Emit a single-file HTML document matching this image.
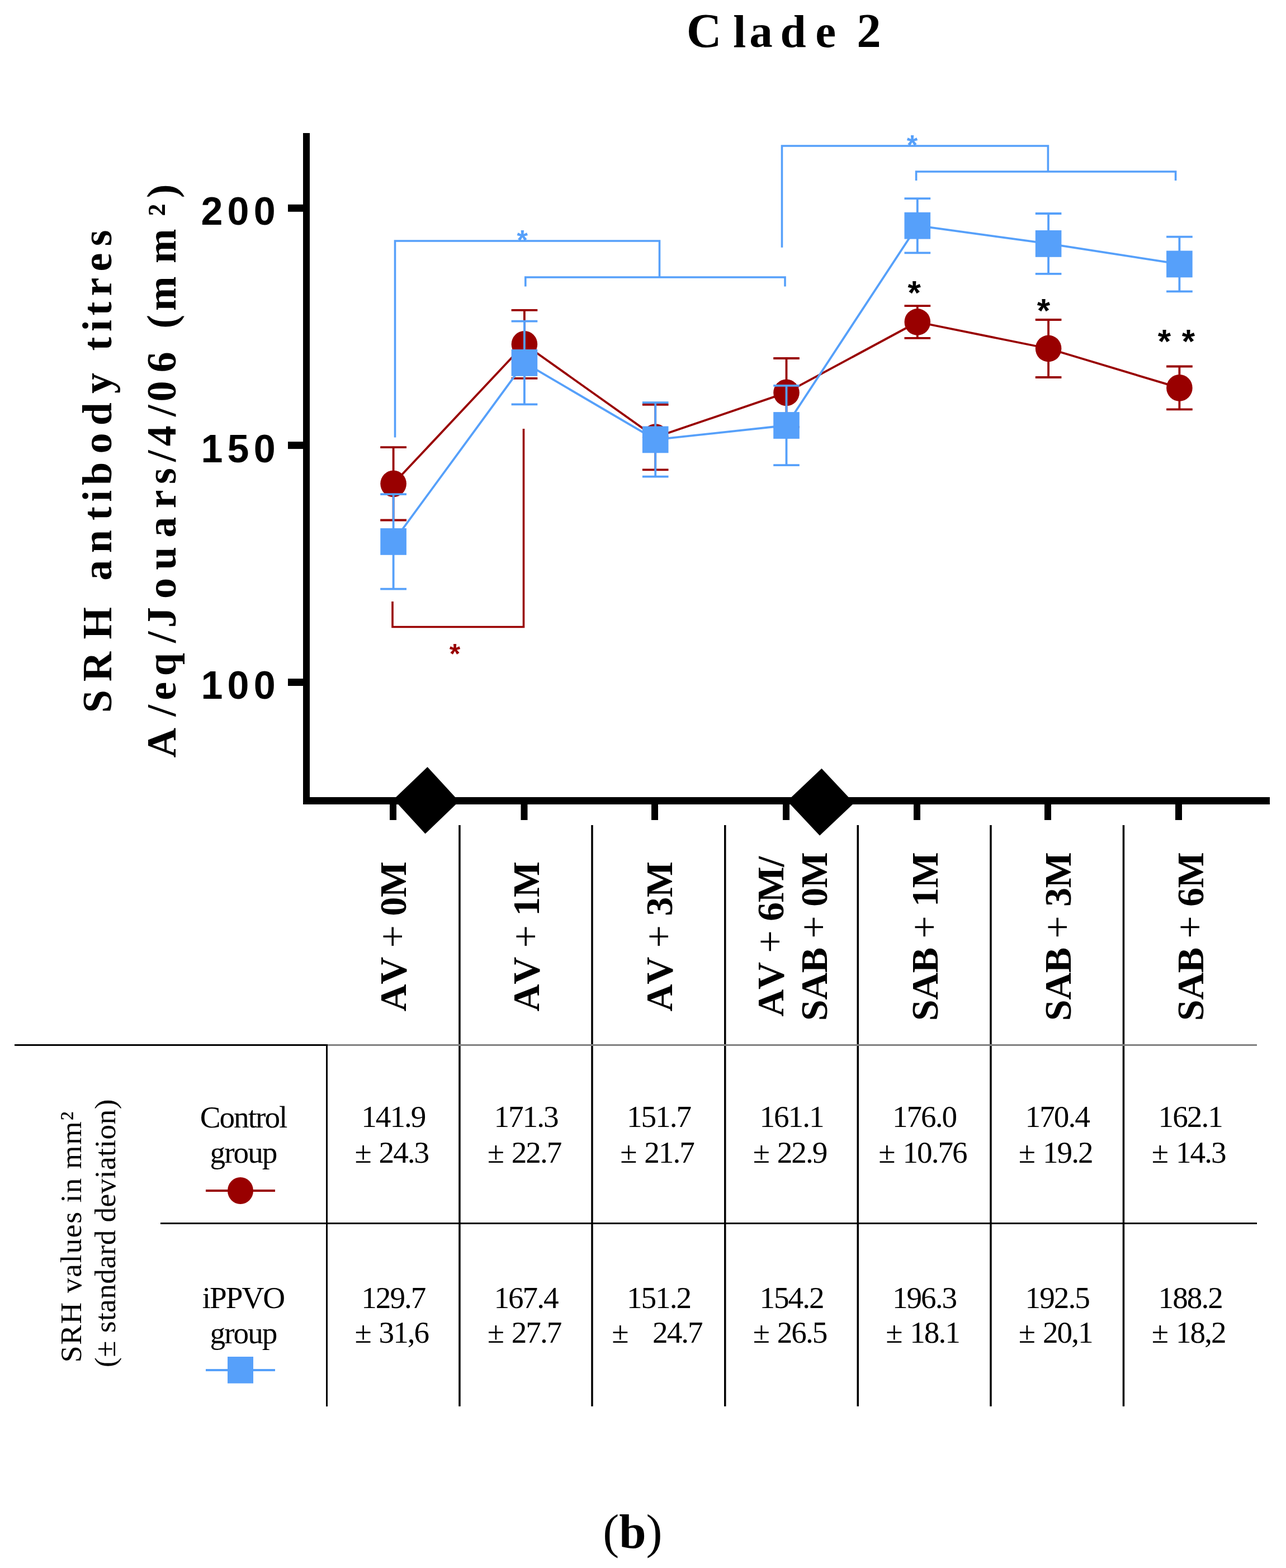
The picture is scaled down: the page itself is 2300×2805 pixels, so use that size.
<!DOCTYPE html><html><head><meta charset="utf-8"><title>Clade 2</title><style>html,body{margin:0;padding:0;background:#fff}svg{display:block}text{font-kerning:none;white-space:pre}</style></head><body>
<svg width="2300" height="2805" viewBox="0 0 2300 2805">
<rect width="2300" height="2805" fill="#fff"/>
<text y="84.4" font-family="Liberation Serif, serif" font-weight="bold" font-size="87.0"><tspan x="1227.7">C</tspan><tspan x="1311.2 1340.2 1395.6 1458.2" font-size="83.0">lade</tspan><tspan x="1500 1532.3"> 2</tspan></text>
<g fill="#000">
<rect x="542" y="238" width="12" height="1201"/>
<rect x="542" y="1426" width="1729" height="13"/>
<rect x="515" y="365.8" width="27" height="13"/>
<rect x="515" y="790.1" width="27" height="13"/>
<rect x="515" y="1214.0" width="27" height="13"/>
<rect x="697.0" y="1439" width="12" height="28"/>
<rect x="931.5" y="1439" width="12" height="28"/>
<rect x="1165.0" y="1439" width="12" height="28"/>
<rect x="1400.0" y="1439" width="12" height="28"/>
<rect x="1634.0" y="1439" width="12" height="28"/>
<rect x="1868.0" y="1439" width="12" height="28"/>
<rect x="2102.0" y="1439" width="12" height="28"/>
<polygon points="764.5,1372 821,1433.5 760.5,1491.6 704,1430"/>
<polygon points="1469.5,1374.8 1527.5,1436.5 1466,1494.8 1408,1433"/>
</g>
<text x="359.4" y="402.3" font-family="Liberation Sans, sans-serif" font-weight="bold" font-size="70" letter-spacing="8.2">200</text>
<text x="359.4" y="827.1" font-family="Liberation Sans, sans-serif" font-weight="bold" font-size="70" letter-spacing="8.2">150</text>
<text x="359.4" y="1250.0" font-family="Liberation Sans, sans-serif" font-weight="bold" font-size="70" letter-spacing="8.2">100</text>
<text transform="translate(199.0,1400.0) rotate(-90)" x="124.7 180.8 256.6 314.1 361.3 410.8 469.0 502.5 532.1 588.4 638.7 696.1 733.1 772.6 807.3 835.6 870.4 914.5 959.8" font-family="Liberation Serif, serif" font-weight="bold" font-size="74.0">SRH antibody titres</text>
<text transform="translate(314.0,1400.0) rotate(-90)" x="44.4 118.4 147.3 190.8 250.1 277.0 329.0 380.6 438.2 490.7 534.1 573.9 601.7 655.1 681.5 733.7 770.7 812.2 844.1 929.1 1013.3 1045.7" font-family="Liberation Serif, serif" font-weight="bold" font-size="74.0">A/eq/Jouars/4/06 (mm²)</text>
<text transform="translate(726.0,1675.5) rotate(-90)" text-anchor="middle" font-family="Liberation Serif, serif" font-weight="bold" font-size="68" letter-spacing="-0.45">AV <tspan font-weight="normal" font-size="72">+</tspan> 0M</text>
<text transform="translate(963.8,1675.5) rotate(-90)" text-anchor="middle" font-family="Liberation Serif, serif" font-weight="bold" font-size="68" letter-spacing="-0.45">AV <tspan font-weight="normal" font-size="72">+</tspan> 1M</text>
<text transform="translate(1202.0,1675.5) rotate(-90)" text-anchor="middle" font-family="Liberation Serif, serif" font-weight="bold" font-size="68" letter-spacing="-0.45">AV <tspan font-weight="normal" font-size="72">+</tspan> 3M</text>
<text transform="translate(1400.7,1675.5) rotate(-90)" text-anchor="middle" font-family="Liberation Serif, serif" font-weight="bold" font-size="68" letter-spacing="-0.45">AV <tspan font-weight="normal" font-size="72">+</tspan> 6M/</text>
<text transform="translate(1479.4,1675.5) rotate(-90)" text-anchor="middle" font-family="Liberation Serif, serif" font-weight="bold" font-size="68" letter-spacing="-0.45">SAB <tspan font-weight="normal" font-size="72">+</tspan> 0M</text>
<text transform="translate(1677.2,1675.5) rotate(-90)" text-anchor="middle" font-family="Liberation Serif, serif" font-weight="bold" font-size="68" letter-spacing="-0.45">SAB <tspan font-weight="normal" font-size="72">+</tspan> 1M</text>
<text transform="translate(1914.7,1675.5) rotate(-90)" text-anchor="middle" font-family="Liberation Serif, serif" font-weight="bold" font-size="68" letter-spacing="-0.45">SAB <tspan font-weight="normal" font-size="72">+</tspan> 3M</text>
<text transform="translate(2151.7,1675.5) rotate(-90)" text-anchor="middle" font-family="Liberation Serif, serif" font-weight="bold" font-size="68" letter-spacing="-0.45">SAB <tspan font-weight="normal" font-size="72">+</tspan> 6M</text>
<g fill="#000">
<rect x="26" y="1868" width="560" height="3"/>
<rect x="583" y="1868" width="3" height="648"/>
<rect x="287" y="2187" width="1961" height="3"/>
<rect x="820.2" y="1476" width="3.5" height="1039.8"/>
<rect x="1057.2" y="1476" width="3.5" height="1039.8"/>
<rect x="1295.0" y="1476" width="3.5" height="1039.8"/>
<rect x="1532.5" y="1476" width="3.5" height="1039.8"/>
<rect x="1770.2" y="1476" width="3.5" height="1039.8"/>
<rect x="2007.7" y="1476" width="3.5" height="1039.8"/>
</g>
<rect x="586" y="1868" width="1662" height="3" fill="#808080"/>
<text x="703.3" y="2016.3" font-family="Liberation Serif, serif" font-size="55.2" letter-spacing="-2.0" text-anchor="middle">141.9</text>
<text x="700.3" y="2080" word-spacing="3" font-family="Liberation Serif, serif" font-size="55.2" letter-spacing="-2.0" text-anchor="middle">± 24.3</text>
<text x="703.3" y="2340" font-family="Liberation Serif, serif" font-size="55.2" letter-spacing="-2.0" text-anchor="middle">129.7</text>
<text x="700.3" y="2402.4" word-spacing="3" font-family="Liberation Serif, serif" font-size="55.2" letter-spacing="-2.0" text-anchor="middle">± 31,6</text>
<text x="940.5" y="2016.3" font-family="Liberation Serif, serif" font-size="55.2" letter-spacing="-2.0" text-anchor="middle">171.3</text>
<text x="937.5" y="2080" word-spacing="3" font-family="Liberation Serif, serif" font-size="55.2" letter-spacing="-2.0" text-anchor="middle">± 22.7</text>
<text x="940.5" y="2340" font-family="Liberation Serif, serif" font-size="55.2" letter-spacing="-2.0" text-anchor="middle">167.4</text>
<text x="937.5" y="2402.4" word-spacing="3" font-family="Liberation Serif, serif" font-size="55.2" letter-spacing="-2.0" text-anchor="middle">± 27.7</text>
<text x="1178.0" y="2016.3" font-family="Liberation Serif, serif" font-size="55.2" letter-spacing="-2.0" text-anchor="middle">151.7</text>
<text x="1175.0" y="2080" word-spacing="3" font-family="Liberation Serif, serif" font-size="55.2" letter-spacing="-2.0" text-anchor="middle">± 21.7</text>
<text x="1178.0" y="2340" font-family="Liberation Serif, serif" font-size="55.2" letter-spacing="-2.0" text-anchor="middle">151.2</text>
<text x="1175.0" y="2402.4" word-spacing="3" font-family="Liberation Serif, serif" font-size="55.2" letter-spacing="-2.0" text-anchor="middle">±   24.7</text>
<text x="1415.5" y="2016.3" font-family="Liberation Serif, serif" font-size="55.2" letter-spacing="-2.0" text-anchor="middle">161.1</text>
<text x="1412.5" y="2080" word-spacing="3" font-family="Liberation Serif, serif" font-size="55.2" letter-spacing="-2.0" text-anchor="middle">± 22.9</text>
<text x="1415.5" y="2340" font-family="Liberation Serif, serif" font-size="55.2" letter-spacing="-2.0" text-anchor="middle">154.2</text>
<text x="1412.5" y="2402.4" word-spacing="3" font-family="Liberation Serif, serif" font-size="55.2" letter-spacing="-2.0" text-anchor="middle">± 26.5</text>
<text x="1653.0" y="2016.3" font-family="Liberation Serif, serif" font-size="55.2" letter-spacing="-2.0" text-anchor="middle">176.0</text>
<text x="1650.0" y="2080" word-spacing="3" font-family="Liberation Serif, serif" font-size="55.2" letter-spacing="-2.0" text-anchor="middle">± 10.76</text>
<text x="1653.0" y="2340" font-family="Liberation Serif, serif" font-size="55.2" letter-spacing="-2.0" text-anchor="middle">196.3</text>
<text x="1650.0" y="2402.4" word-spacing="3" font-family="Liberation Serif, serif" font-size="55.2" letter-spacing="-2.0" text-anchor="middle">± 18.1</text>
<text x="1890.7" y="2016.3" font-family="Liberation Serif, serif" font-size="55.2" letter-spacing="-2.0" text-anchor="middle">170.4</text>
<text x="1887.7" y="2080" word-spacing="3" font-family="Liberation Serif, serif" font-size="55.2" letter-spacing="-2.0" text-anchor="middle">± 19.2</text>
<text x="1890.7" y="2340" font-family="Liberation Serif, serif" font-size="55.2" letter-spacing="-2.0" text-anchor="middle">192.5</text>
<text x="1887.7" y="2402.4" word-spacing="3" font-family="Liberation Serif, serif" font-size="55.2" letter-spacing="-2.0" text-anchor="middle">± 20,1</text>
<text x="2128.7" y="2016.3" font-family="Liberation Serif, serif" font-size="55.2" letter-spacing="-2.0" text-anchor="middle">162.1</text>
<text x="2125.7" y="2080" word-spacing="3" font-family="Liberation Serif, serif" font-size="55.2" letter-spacing="-2.0" text-anchor="middle">± 14.3</text>
<text x="2128.7" y="2340" font-family="Liberation Serif, serif" font-size="55.2" letter-spacing="-2.0" text-anchor="middle">188.2</text>
<text x="2125.7" y="2402.4" word-spacing="3" font-family="Liberation Serif, serif" font-size="55.2" letter-spacing="-2.0" text-anchor="middle">± 18,2</text>
<text x="435" y="2016.5" font-family="Liberation Serif, serif" font-size="55.2" letter-spacing="-2.0" text-anchor="middle">Control</text>
<text x="435" y="2080.4" font-family="Liberation Serif, serif" font-size="55.2" letter-spacing="-2.0" text-anchor="middle">group</text>
<text x="435" y="2339.9" font-family="Liberation Serif, serif" font-size="55.2" letter-spacing="-2.0" text-anchor="middle">iPPVO</text>
<text x="435" y="2403.3" font-family="Liberation Serif, serif" font-size="55.2" letter-spacing="-2.0" text-anchor="middle">group</text>
<rect x="368" y="2128" width="124" height="4" fill="#990000"/>
<ellipse cx="430" cy="2130" rx="23" ry="24" fill="#990000"/>
<rect x="368" y="2449" width="124" height="4" fill="#56A0FA"/>
<rect x="407" y="2427" width="46" height="47.7" fill="#56A0FA"/>
<text transform="translate(145,2212) rotate(-90)" text-anchor="middle" font-family="Liberation Serif, serif" font-size="53.5" letter-spacing="1.7">SRH values in mm²</text>
<text transform="translate(205.8,2206) rotate(-90)" text-anchor="middle" font-family="Liberation Serif, serif" font-size="53.5" letter-spacing="0.35">(± standard deviation)</text>
<text x="1131.4" y="2768.5" text-anchor="middle" font-family="Liberation Serif, serif" font-weight="bold" font-size="87"><tspan font-weight="normal">(</tspan>b<tspan font-weight="normal">)</tspan></text>
<g fill="none" stroke="#56A0FA" stroke-width="3.6" stroke-linecap="butt" stroke-linejoin="miter">
<path d="M706.5,782.4 V431 H1179.5 V496"/>
<path d="M939.8,512.5 V496 H1404 V512.5"/>
<path d="M1398.5,442.7 V261 H1874.4 V307"/>
<path d="M1638.6,323 V307 H2102.6 V323"/>
</g>
<path d="M702,1076 V1121.5 H936.5 V767.1" fill="none" stroke="#990000" stroke-width="3.6"/>
<text x="924.6" y="447.4" font-family="Liberation Sans, sans-serif" font-weight="bold" font-size="50" fill="#56A0FA">*</text>
<text x="1621.7" y="276.5" font-family="Liberation Sans, sans-serif" font-weight="bold" font-size="50" fill="#56A0FA">*</text>
<text x="803.7" y="1187.3" font-family="Liberation Sans, sans-serif" font-weight="bold" font-size="50" fill="#990000">*</text>
<text x="1623.6" y="544.3" font-family="Liberation Sans, sans-serif" font-weight="bold" font-size="60">*</text>
<text x="1854.7" y="576.0" font-family="Liberation Sans, sans-serif" font-weight="bold" font-size="60">*</text>
<text x="2070.8" y="631.3" font-family="Liberation Sans, sans-serif" font-weight="bold" font-size="60">*</text>
<text x="2113.8" y="631.3" font-family="Liberation Sans, sans-serif" font-weight="bold" font-size="60">*</text>
<polyline points="703.6,865.3 937.9,615.8 1172.2,782.2 1406.5,702.4 1640.8,576.0 1875.1,623.5 2109.4,693.9" fill="none" stroke="#990000" stroke-width="3.8" stroke-linejoin="round"/>
<g stroke="#990000" stroke-width="3.8" fill="none">
<path d="M703.6,800.1 V930.5 M680.2,800.1 H727.0 M680.2,930.5 H727.0"/>
<path d="M937.9,554.9 V676.8 M914.6,554.9 H961.3 M914.6,676.8 H961.3"/>
<path d="M1172.2,723.9 V840.4 M1148.9,723.9 H1195.5 M1148.9,840.4 H1195.5"/>
<path d="M1406.5,641.0 V763.9 M1383.2,641.0 H1429.8 M1383.2,763.9 H1429.8"/>
<path d="M1640.8,547.1 V604.8 M1617.5,547.1 H1664.2 M1617.5,604.8 H1664.2"/>
<path d="M1875.1,572.0 V675.0 M1851.8,572.0 H1898.4 M1851.8,675.0 H1898.4"/>
<path d="M2109.4,655.5 V732.3 M2086.1,655.5 H2132.8 M2086.1,732.3 H2132.8"/>
</g>
<ellipse cx="703.6" cy="865.3" rx="23.3" ry="23.9" fill="#990000"/>
<ellipse cx="937.9" cy="615.8" rx="23.3" ry="23.9" fill="#990000"/>
<ellipse cx="1172.2" cy="782.2" rx="23.3" ry="23.9" fill="#990000"/>
<ellipse cx="1406.5" cy="702.4" rx="23.3" ry="23.9" fill="#990000"/>
<ellipse cx="1640.8" cy="576.0" rx="23.3" ry="23.9" fill="#990000"/>
<ellipse cx="1875.1" cy="623.5" rx="23.3" ry="23.9" fill="#990000"/>
<ellipse cx="2109.4" cy="693.9" rx="23.3" ry="23.9" fill="#990000"/>
<polyline points="703.6,968.9 937.9,648.9 1172.2,786.4 1406.5,761.0 1640.8,403.7 1875.1,435.9 2109.4,472.4" fill="none" stroke="#56A0FA" stroke-width="3.8" stroke-linejoin="round"/>
<g stroke="#56A0FA" stroke-width="3.8" fill="none">
<path d="M703.6,884.1 V1053.7 M680.2,884.1 H727.0 M680.2,1053.7 H727.0"/>
<path d="M937.9,574.6 V723.3 M914.6,574.6 H961.3 M914.6,723.3 H961.3"/>
<path d="M1172.2,720.1 V852.7 M1148.9,720.1 H1195.5 M1148.9,852.7 H1195.5"/>
<path d="M1406.5,689.8 V832.1 M1383.2,689.8 H1429.8 M1383.2,832.1 H1429.8"/>
<path d="M1640.8,355.1 V452.3 M1617.5,355.1 H1664.2 M1617.5,452.3 H1664.2"/>
<path d="M1875.1,382.0 V489.9 M1851.8,382.0 H1898.4 M1851.8,489.9 H1898.4"/>
<path d="M2109.4,423.6 V521.3 M2086.1,423.6 H2132.8 M2086.1,521.3 H2132.8"/>
</g>
<rect x="680.3" y="945.0" width="46.6" height="47.8" fill="#56A0FA"/>
<rect x="914.6" y="625.0" width="46.6" height="47.8" fill="#56A0FA"/>
<rect x="1148.9" y="762.5" width="46.6" height="47.8" fill="#56A0FA"/>
<rect x="1383.2" y="737.1" width="46.6" height="47.8" fill="#56A0FA"/>
<rect x="1617.5" y="379.8" width="46.6" height="47.8" fill="#56A0FA"/>
<rect x="1851.8" y="412.0" width="46.6" height="47.8" fill="#56A0FA"/>
<rect x="2086.1" y="448.5" width="46.6" height="47.8" fill="#56A0FA"/>
</svg></body></html>
